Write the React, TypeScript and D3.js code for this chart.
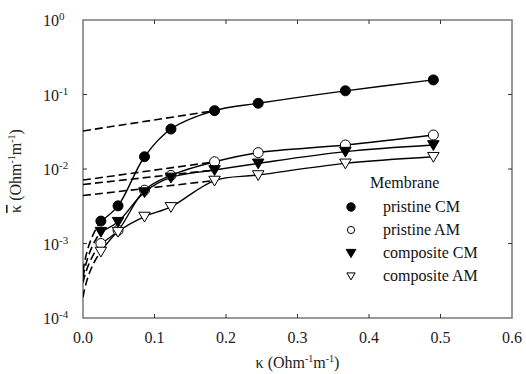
import { useMemo } from 'react'
import * as d3 from 'd3'

// membrane conductivity data
const kappa = [0.025, 0.049, 0.086, 0.123, 0.184, 0.245, 0.367, 0.49]

const pristineCM = [0.002, 0.0032, 0.0146, 0.0344, 0.0607, 0.0762, 0.112, 0.157]
const pristineAM = [0.001, 0.0015, 0.0052, 0.0082, 0.0125, 0.0166, 0.021, 0.0286]
const compositeCM = [0.00144, 0.00196, 0.0049, 0.0077, 0.0097, 0.0119, 0.0171, 0.021]
const compositeAM = [0.00078, 0.00144, 0.0023, 0.0031, 0.007, 0.0083, 0.0119, 0.0146]

// intercepts at kappa = 0 of the dashed extrapolations
const highIntercepts = [0.0324, 0.0071, 0.0062, 0.0044]
const lowIntercepts = [0.00042, 0.0003, 0.00035, 0.00019]

const seriesNames = ['pristine CM', 'pristine AM', 'composite CM', 'composite AM']
const seriesValues = [pristineCM, pristineAM, compositeCM, compositeAM]
const seriesMarkers = ['circle', 'circle', 'triangle', 'triangle']
const seriesFilled = [true, false, true, false]

const xTicks = [0, 0.1, 0.2, 0.3, 0.4, 0.5, 0.6]
const yTicks = [1, 0.1, 0.01, 0.001, 0.0001]
const yExponents = ['0', '-1', '-2', '-3', '-4']

const width = 526
const height = 374
const margin = { top: 20, right: 14, bottom: 56, left: 83 }
const innerWidth = width - margin.left - margin.right
const innerHeight = height - margin.top - margin.bottom
const font = "'Liberation Serif', 'DejaVu Serif', 'Noto Serif', 'Times New Roman', Times, serif"
const knee = 4 // index of the point where the dashed high-kappa line ends

let Marker = ({ shape, filled, x, y, size }: { shape: string; filled: boolean; x: number; y: number; size: number }) => {
    let fill = filled ? '#000' : '#fff'
    if (shape === 'circle') {
        return <circle cx={x} cy={y} r={size} fill={fill} stroke='#000' strokeWidth={1} />
    }
    let s = size * 1.15
    let path = `M${x - s},${y - s * 0.75}L${x + s},${y - s * 0.75}L${x},${y + s * 0.95}Z`
    return <path d={path} fill={fill} stroke='#000' strokeWidth={1} />
}

const App = () => {
    let xScale = useMemo(() => d3.scaleLinear().domain([0, 0.6]).range([0, innerWidth]), [])
    let yScale = useMemo(() => d3.scaleLog().domain([1e-4, 1]).range([innerHeight, 0]), [])

    let solidLine = d3.line<[number, number]>()
        .x(d => xScale(d[0]))
        .y(d => yScale(d[1]))
        .curve(d3.curveCatmullRom.alpha(0.5))

    let straight = d3.line<[number, number]>()
        .x(d => xScale(d[0]))
        .y(d => yScale(d[1]))

    // low-kappa extrapolation: linear in value space, drawn on the log axis
    let lowCurve = (a: number, x1: number, y1: number) => {
        let pts: [number, number][] = d3.range(0, 1.0001, 0.02).map(t => {
            let x = x1 * t * t
            return [x, a + (y1 - a) * (x / x1)]
        })
        return straight(pts)
    }

    return (
        <svg width={width} height={height} style={{ position: 'absolute', left: 0, top: 0, fontFamily: font }}>
            <g transform={`translate(${margin.left},${margin.top})`}>
                <defs>
                    <clipPath id='plot'>
                        <rect x={0} y={0} width={innerWidth} height={innerHeight} />
                    </clipPath>
                </defs>

                {/* frame */}
                <rect x={0} y={0} width={innerWidth} height={innerHeight} fill='none' stroke='#808080' strokeWidth={1.6} />

                {xTicks.slice(1, -1).map(t => (
                    <g key={t}>
                        <line x1={xScale(t)} x2={xScale(t)} y1={innerHeight} y2={innerHeight - 4} stroke='#333' />
                        <line x1={xScale(t)} x2={xScale(t)} y1={0} y2={4} stroke='#333' />
                    </g>
                ))}
                {xTicks.map(t => (
                    <text key={t} x={xScale(t)} y={innerHeight + 25} textAnchor='middle' fontSize={16} fill='#222'>
                        {t.toFixed(1)}
                    </text>
                ))}

                {yTicks.map((t, i) => (
                    <g key={t}>
                        {i > 0 && i < yTicks.length - 1 && (
                            <>
                                <line x1={0} x2={4} y1={yScale(t)} y2={yScale(t)} stroke='#333' />
                                <line x1={innerWidth} x2={innerWidth - 4} y1={yScale(t)} y2={yScale(t)} stroke='#333' />
                            </>
                        )}
                        <text x={-40} y={yScale(t) + 6} fontSize={16} fill='#222'>
                            10
                            <tspan dy={-6} fontSize={11}>{yExponents[i]}</tspan>
                        </text>
                    </g>
                ))}

                <g clipPath='url(#plot)' fill='none' stroke='#000'>
                    {seriesValues.map((vals, i) => (
                        <g key={seriesNames[i]}>
                            <path d={solidLine(kappa.map((k, j) => [k, vals[j]] as [number, number])) ?? ''} strokeWidth={1.4} />
                            <path
                                d={straight([[0, highIntercepts[i]], [kappa[knee], vals[knee]]]) ?? ''}
                                strokeWidth={1.6}
                                strokeDasharray='8,4'
                            />
                            <path
                                d={lowCurve(lowIntercepts[i], kappa[0], vals[0]) ?? ''}
                                strokeWidth={1.6}
                                strokeDasharray='8,4'
                            />
                        </g>
                    ))}
                </g>

                {seriesValues.map((vals, i) => (
                    <g key={seriesNames[i]}>
                        {vals.map((v, j) => (
                            <Marker key={j} shape={seriesMarkers[i]} filled={seriesFilled[i]} x={xScale(kappa[j])} y={yScale(v)} size={5} />
                        ))}
                    </g>
                ))}

                {/* legend */}
                <g transform={`translate(${370 - margin.left},${188 - margin.top})`} fontSize={16} fill='#111'>
                    <text x={0} y={0}>Membrane</text>
                    {seriesNames.map((name, i) => (
                        <g key={name} transform={`translate(0,${24 + i * 23})`}>
                            <Marker shape={seriesMarkers[i]} filled={seriesFilled[i]} x={-19} y={-5} size={seriesFilled[i] ? 4.2 : 3.6} />
                            <text x={13} y={0}>{name}</text>
                        </g>
                    ))}
                </g>

                {/* axis titles */}
                <text x={innerWidth / 2} y={innerHeight + 50} textAnchor='middle' fontSize={16} fill='#222'>
                    κ (Ohm<tspan dy={-6} fontSize={10}>-1</tspan><tspan dy={6}>m</tspan><tspan dy={-6} fontSize={10}>-1</tspan><tspan dy={6}>)</tspan>
                </text>
                <text
                    transform={`translate(${-62},${innerHeight / 2 + 2}) rotate(-90)`}
                    textAnchor='middle'
                    fontSize={16}
                    fill='#222'
                >
                    <tspan textDecoration='overline'>κ</tspan> (Ohm<tspan dy={-6} fontSize={10}>-1</tspan><tspan dy={6}>m</tspan><tspan dy={-6} fontSize={10}>-1</tspan><tspan dy={6}>)</tspan>
                </text>
            </g>
        </svg>
    )
}

export default App
